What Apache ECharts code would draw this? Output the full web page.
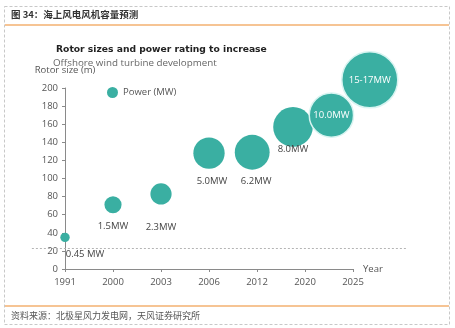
<!DOCTYPE html>
<html>
<head>
<meta charset="utf-8">
<script src="https://cdn.jsdelivr.net/npm/echarts@6/dist/echarts.min.js"></script>
<style>
html,body{margin:0;padding:0;background:#fff;}
#c{width:455px;height:328px;}
</style>
</head>
<body>
<div id="c"></div>
<script>
// ---- data ----
const yearTicks = ['1991', '2000', '2003', '2006', '2012', '2020', '2025'];
const bubbleX = [0, 1, 2, 3, 3.9, 4.75, 5.55, 6.35];      // position along year axis (tick index units)
const rotorSize = [35, 71, 83, 128, 129, 157, 170, 209];  // rotor size (m)
const powerMW = [0.45, 1.5, 2.3, 5.0, 6.2, 8.0, 10.0, 16]; // power rating (MW)
const powerLabels = ['0.45 MW', '1.5MW', '2.3MW', '5.0MW', '6.2MW', '8.0MW', '10.0MW', '15-17MW'];
const yTicks = [0, 20, 40, 60, 80, 100, 120, 140, 160, 180, 200];
const refLineValue = 23;
const refLineSpan = [-0.69, 7.12];

// ---- styles ----
const teal = '#3AAFA2';
const labelOffsets = [[20, 17], [0, 22], [0, 33], [3, 28], [4, 29], [0, 22], [0, 0], [0, 0]];
const insideLabel = [false, false, false, false, false, false, true, true];
const font = "'Open Sans', 'Liberation Sans', sans-serif";

const chart = echarts.init(document.getElementById('c'), null, {renderer: 'canvas'});

const bubbleData = bubbleX.map((x, i) => ({
  value: [x, rotorSize[i], powerMW[i]],
  name: powerLabels[i],
  symbolSize: 14 * Math.sqrt(powerMW[i]),
  itemStyle: insideLabel[i] ? {borderColor: '#d8f4f1', borderWidth: 1.5} : {},
  label: {
    show: true,
    position: 'inside',
    offset: labelOffsets[i],
    formatter: powerLabels[i],
    color: insideLabel[i] ? '#ffffff' : '#444',
    fontSize: 9.5,
    fontFamily: font
  }
}));

const frameGraphics = [
  {type: 'rect', shape: {x: 4.5, y: 6.5, width: 445, height: 318},
   style: {fill: null, stroke: '#c8c8c8', lineWidth: 1, lineDash: [3, 2]}, z: 0},
  {type: 'line', shape: {x1: 5, y1: 25, x2: 449, y2: 25},
   style: {stroke: '#EE8A2A', lineWidth: 1.2}},
  {type: 'line', shape: {x1: 5, y1: 306, x2: 449, y2: 306},
   style: {stroke: '#EE8A2A', lineWidth: 1.2}},
  {type: 'text', left: 11, top: 10,
   style: {text: '图 34：海上风电风机容量预测', fill: '#333', font: "bold 9.5px 'Noto Sans CJK SC', sans-serif"}},
  {type: 'text', left: 11, top: 311,
   style: {text: '资料来源：北极星风力发电网，天风证券研究所', fill: '#555', font: "9px 'Noto Sans CJK SC', sans-serif"}}
];

chart.setOption({
  animation: false,
  backgroundColor: '#fff',
  textStyle: {fontFamily: font},
  title: [
    {text: 'Rotor sizes and power rating to increase', left: 51, top: 40,
     textStyle: {fontSize: 9.2, fontWeight: 'bold', color: '#222', fontFamily: "'DejaVu Sans', sans-serif"}},
    {text: 'Offshore wind turbine development', left: 48, top: 53,
     textStyle: {fontSize: 9.8, fontWeight: 'normal', color: '#666', fontFamily: font}}
  ],
  legend: {
    data: ['Power (MW)'],
    left: 102, top: 82,
    icon: 'circle', itemWidth: 11, itemHeight: 11, itemGap: 5,
    textStyle: {fontSize: 9.5, color: '#555', fontFamily: font}
  },
  grid: {left: 65, right: 102, top: 88, bottom: 59, containLabel: false},
  xAxis: {
    type: 'value', min: 0, max: yearTicks.length - 1, interval: 1,
    name: 'Year', nameLocation: 'end', nameGap: 10,
    nameTextStyle: {fontSize: 9.5, color: '#555', verticalAlign: 'middle', fontFamily: font},
    axisLine: {show: true, lineStyle: {color: '#8a8a8a', width: 1}},
    axisTick: {show: true, length: 3, lineStyle: {color: '#8a8a8a'}},
    axisLabel: {formatter: v => yearTicks[v] || '', fontSize: 9.5, color: '#555', margin: 8, fontFamily: font},
    splitLine: {show: false}
  },
  yAxis: {
    type: 'value', min: yTicks[0], max: yTicks[yTicks.length - 1], interval: yTicks[1] - yTicks[0],
    name: 'Rotor size (m)', nameLocation: 'end', nameGap: 13,
    nameTextStyle: {fontSize: 9.5, color: '#555', fontFamily: font},
    axisLine: {show: true, lineStyle: {color: '#8a8a8a', width: 1}},
    axisTick: {show: true, length: 3, lineStyle: {color: '#8a8a8a'}},
    axisLabel: {fontSize: 9.5, color: '#555', margin: 7, fontFamily: font},
    splitLine: {show: false}
  },
  series: [
    {
      name: 'Power (MW)', type: 'scatter', clip: false,
      itemStyle: {color: teal, opacity: 1},
      data: bubbleData,
      z: 3
    }
  ],
  graphic: frameGraphics
});

// dotted reference line, positioned through the chart's own scales
const p1 = chart.convertToPixel({gridIndex: 0}, [refLineSpan[0], refLineValue]);
const p2 = chart.convertToPixel({gridIndex: 0}, [refLineSpan[1], refLineValue]);
chart.setOption({
  graphic: frameGraphics.concat([{
    type: 'line', silent: true, z: 1,
    shape: {x1: p1[0], y1: Math.round(p1[1]) + 0.5, x2: p2[0], y2: Math.round(p2[1]) + 0.5},
    style: {stroke: '#b4b4b4', lineWidth: 1, lineDash: [2, 2]}
  }])
});
</script>
</body>
</html>
